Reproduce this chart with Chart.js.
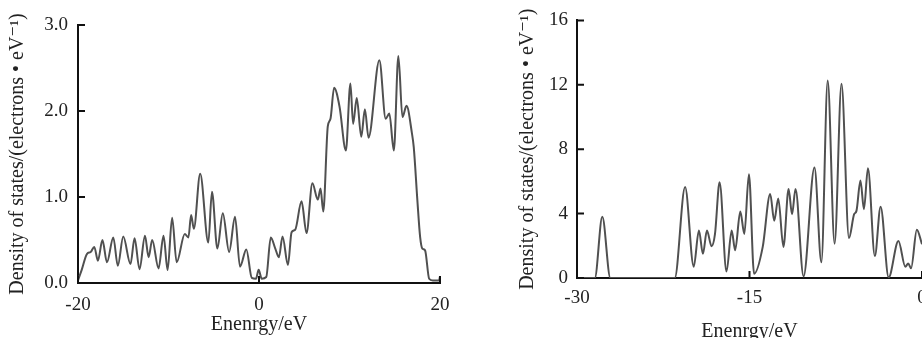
<!DOCTYPE html>
<html>
<head>
<meta charset="utf-8">
<script src="https://cdn.jsdelivr.net/npm/chart.js@4/dist/chart.umd.min.js"></script>
<style>
  html, body { margin: 0; padding: 0; background: #fff; overflow: hidden; }
  body { width: 922px; height: 338px; position: relative; }
  .box { position: absolute; top: 0; }
  #left { left: 0; width: 460px; height: 338px; }
  #right { left: 460px; width: 480px; height: 345px; }
</style>
</head>
<body>
<div class="box" id="left"><canvas id="c1"></canvas></div>
<div class="box" id="right"><canvas id="c2"></canvas></div>
<script>
/* global Chart */

// left panel: total DOS, -20..20 eV
const energyA = [
  -20, -19.6, -19.0, -18.6, -18.2, -17.8, -17.3, -16.8, -16.1, -15.6,
  -15.0, -14.2, -13.75, -13.2, -12.6, -12.2, -11.8, -11.1, -10.55, -10.1,
  -9.6, -9.1, -8.2, -7.8, -7.5, -7.2, -6.5, -5.6, -5.2, -4.6,
  -4.0, -3.3, -2.65, -2.1, -1.4, -0.8, -0.33, -0.04, 0.3, 0.8,
  1.3, 1.8, 2.2, 2.6, 3.2, 3.6, 4.0, 4.7, 5.25, 5.9,
  6.5, 6.8, 7.1, 7.6, 7.9, 8.3, 8.9, 9.6, 10.1, 10.4,
  10.8, 11.3, 11.7, 12.1, 13.3, 14.0, 14.4, 14.9, 15.4, 15.85,
  16.3, 16.9, 17.1, 17.5, 17.8, 18.05, 18.35, 18.8, 19.2, 19.9, 20
];
const dosA = [
  0.03, 0.15, 0.34, 0.36, 0.42, 0.26, 0.50, 0.24, 0.53, 0.20,
  0.54, 0.22, 0.52, 0.16, 0.55, 0.30, 0.50, 0.17, 0.55, 0.15,
  0.76, 0.24, 0.57, 0.53, 0.79, 0.63, 1.27, 0.47, 1.06, 0.40,
  0.81, 0.36, 0.77, 0.19, 0.39, 0.06, 0.05, 0.155, 0.05, 0.07,
  0.53, 0.40, 0.30, 0.54, 0.21, 0.59, 0.62, 0.95, 0.58, 1.16,
  0.97, 1.10, 0.83, 1.82, 1.91, 2.27, 2.05, 1.54, 2.32, 1.85,
  2.15, 1.70, 2.02, 1.69, 2.59, 1.91, 1.97, 1.54, 2.64, 1.93,
  2.06, 1.74, 1.58, 0.96, 0.54, 0.40, 0.38, 0.05, 0.03, 0.03, 0.08
];

// right panel: -30..0 eV
const energyB = [
  -30, -28.45, -27.8, -27.1, -21.5, -20.6, -19.85, -19.4, -19.05, -18.7,
  -18.3, -18.0, -17.6, -17.0, -16.55, -16.25, -15.8, -15.45, -15.05, -14.6,
  -13.85, -13.2, -12.85, -12.5, -12.05, -11.6, -11.3, -11.0, -10.3, -9.35,
  -8.75, -8.2, -7.6, -7.0, -6.35, -5.9, -5.7, -5.35, -5.05, -4.7,
  -4.1, -3.6, -2.9, -2.05, -1.45, -1.2, -0.95, -0.45, 0
];
const dosB = [
  0, 0, 3.8, 0, 0, 5.65, 0.7, 2.95, 1.5, 2.95,
  1.97, 2.74, 5.95, 0.4, 2.95, 1.73, 4.13, 2.74, 6.44, 0.26,
  1.93, 5.22, 3.56, 4.94, 1.93, 5.53, 3.96, 5.53, 0.1, 6.87,
  0.98, 12.26, 2.13, 12.06, 2.48, 3.96, 4.17, 6.06, 4.27, 6.81,
  1.36, 4.43, 0.04, 2.3, 0.7, 0.9, 0.6, 3.0, 2.1
];

const yTitle = 'Density of states/(electrons \u2022 eV\u207B\u00B9)';
const xTitle = 'Enenrgy/eV';

const serif = '"Liberation Serif", "DejaVu Serif", serif';
const textColor = '#222';

// short tick marks pointing into the plot
const innerTicks = {
  id: 'innerTicks',
  afterDraw(chart) {
    const { x, y } = chart.scales;
    const area = chart.chartArea;
    const c = chart.ctx;
    c.save();
    c.strokeStyle = '#111';
    c.lineWidth = 2;
    c.beginPath();
    y.ticks.forEach(t => {
      const py = y.getPixelForValue(t.value);
      c.moveTo(area.left, py);
      c.lineTo(area.left + 7, py);
    });
    x.ticks.forEach(t => {
      const px = x.getPixelForValue(t.value);
      c.moveTo(px, area.bottom);
      c.lineTo(px, area.bottom - 7);
    });
    c.stroke();
    c.restore();
  }
};

function makeChart(id, xs, ys, o) {
  const pts = xs.map((v, i) => ({ x: v, y: ys[i] }));
  return new Chart(document.getElementById(id), {
    type: 'line',
    data: {
      datasets: [{
        data: pts,
        borderColor: '#505050',
        borderWidth: 2,
        pointRadius: 0,
        fill: false,
        cubicInterpolationMode: 'monotone'
      }]
    },
    options: {
      responsive: true,
      maintainAspectRatio: false,
      animation: false,
      layout: { padding: o.padding },
      plugins: { legend: { display: false }, tooltip: { enabled: false } },
      scales: {
        x: {
          type: 'linear',
          min: o.xmin, max: o.xmax,
          afterFit: s => { s.height = o.xh; },
          afterBuildTicks: s => { s.ticks = o.xticks.map(v => ({ value: v })); },
          ticks: { font: { family: serif, size: 19 }, color: textColor, padding: o.xpad, maxRotation: 0 },
          grid: { display: false, drawTicks: false },
          border: { color: '#111', width: 2 },
          title: { display: true, text: xTitle, font: { family: serif, size: 20 }, color: textColor, padding: { top: 0, bottom: 1 } }
        },
        y: {
          min: o.ymin, max: o.ymax,
          afterFit: s => { s.width = o.yw; },
          afterBuildTicks: s => { s.ticks = o.yticks.map(v => ({ value: v })); },
          ticks: { font: { family: serif, size: 19 }, color: textColor, padding: o.ypad, callback: o.yfmt },
          grid: { display: false, drawTicks: false },
          border: { color: '#111', width: 2 },
          title: { display: true, text: yTitle, font: { family: serif, size: 20 }, color: textColor, padding: { top: o.ytpad, bottom: 0 } }
        }
      }
    },
    plugins: [innerTicks]
  });
}

makeChart('c1', energyA, dosA, {
  xmin: -20, xmax: 20, xticks: [-20, 0, 20],
  ymin: 0, ymax: 3, yticks: [0, 1, 2, 3], yfmt: v => Number(v).toFixed(1),
  padding: { top: 25, right: 19, left: 0, bottom: 0 },
  yw: 78, xh: 55, xpad: 10.5, ypad: 10, ytpad: 6
});

makeChart('c2', energyB, dosB, {
  xmin: -30, xmax: 0, xticks: [-30, -15, 0],
  ymin: 0, ymax: 16, yticks: [0, 4, 8, 12, 16], yfmt: v => String(v),
  padding: { top: 16, right: 18, left: 55, bottom: 0 },
  yw: 62, xh: 67, xpad: 8.5, ypad: 9, ytpad: 1
});
</script>
</body>
</html>
